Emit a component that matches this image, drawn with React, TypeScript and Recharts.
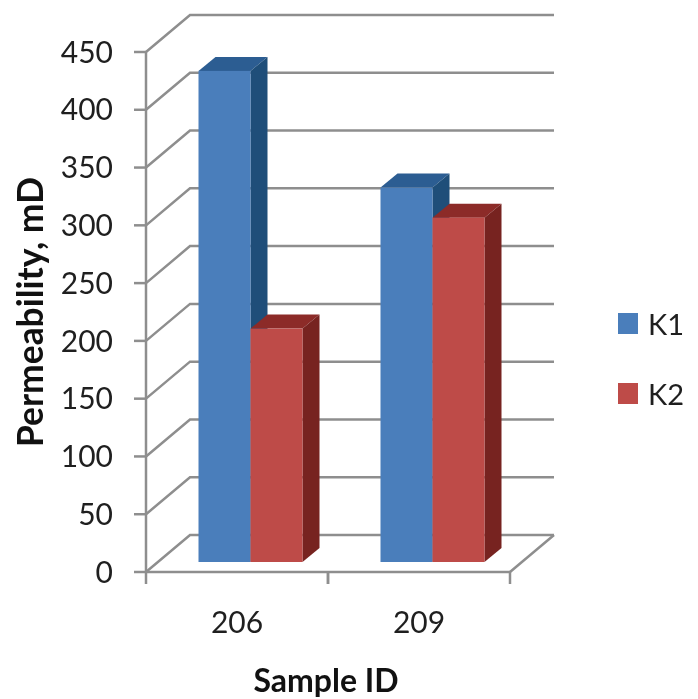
import React from "react";
import { BarChart, Bar, XAxis, YAxis, CartesianGrid, Legend } from "recharts";

const categories = ["206", "209"];
const k1Values = [425, 324];
const k2Values = [202, 298];
const yTicks = [0, 50, 100, 150, 200, 250, 300, 350, 400, 450];

const data = categories.map((name, i) => ({ name, K1: k1Values[i], K2: k2Values[i] }));

const WIDTH = 698;
const HEIGHT = 699;
const MARGIN = { top: 52, right: 188, bottom: 0, left: 0 };
const AXIS_W = 146;
const AXIS_H = 127;
const PLOT_BOTTOM = HEIGHT - AXIS_H;
const BAND = (WIDTH - MARGIN.right - AXIS_W) / categories.length;

// depth of the fake 3d box
const WALL_X = 44;
const WALL_Y = 37;
const BAR_DX = 13.5;
const BAR_DY = -10;
const BAR_DEPTH_X = 17;
const BAR_DEPTH_Y = 14;

const GRID = "#8e8e8e";
const TEXT = "#1f1f1f";
const FONT = "Lato, sans-serif";

const BLUE = { front: "#4a7ebb", top: "#2c5d92", side: "#1f4e79" };
const RED = { front: "#be4b48", top: "#8c2b28", side: "#772320" };

function WallLine(props: any) {
  const { x1, x2, y1 } = props;
  const isFloor = Math.abs(y1 - PLOT_BOTTOM) < 1;
  return (
    <g fill="none" stroke={GRID} strokeWidth={2.5}>
      <polyline points={`${x1},${y1} ${x1 + WALL_X},${y1 - WALL_Y} ${x2 + WALL_X},${y1 - WALL_Y}`} />
      {isFloor && <line x1={x2} y1={y1} x2={x2 + WALL_X} y2={y1 - WALL_Y} />}
    </g>
  );
}

function Box(props: any) {
  const { x, y, width, height, colors } = props;
  const l = x + BAR_DX;
  const r = l + width;
  const t = y + BAR_DY;
  const b = t + height;
  const dx = BAR_DEPTH_X;
  const dy = BAR_DEPTH_Y;
  return (
    <g>
      <polygon points={`${l},${t} ${l + dx},${t - dy} ${r + dx},${t - dy} ${r},${t}`} fill={colors.top} />
      <polygon points={`${r},${t} ${r + dx},${t - dy} ${r + dx},${b - dy} ${r},${b}`} fill={colors.side} />
      <rect x={l} y={t} width={width} height={height} fill={colors.front} />
    </g>
  );
}

function CategoryTick(props: any) {
  const { x, payload } = props;
  const c = payload.coordinate ?? x;
  return (
    <g>
      <line x1={c - BAND / 2} y1={PLOT_BOTTOM} x2={c - BAND / 2} y2={PLOT_BOTTOM + 12} stroke={GRID} strokeWidth={2.5} />
      <line x1={c + BAND / 2} y1={PLOT_BOTTOM} x2={c + BAND / 2} y2={PLOT_BOTTOM + 12} stroke={GRID} strokeWidth={2.5} />
      <text x={c} y={PLOT_BOTTOM + 61} textAnchor="middle" fontFamily={FONT} fontSize={30} fill={TEXT}>
        {payload.value}
      </text>
    </g>
  );
}

function LegendBox(props: any) {
  return (
    <div>
      {(props.payload || []).map((item: any) => (
        <div key={item.value} style={{ display: "flex", alignItems: "center", height: 70, fontFamily: FONT, fontSize: 29, color: TEXT }}>
          <span style={{ width: 20, height: 21, marginRight: 10, background: item.value === "K1" ? BLUE.front : RED.front }} />
          {item.value}
        </div>
      ))}
    </div>
  );
}

export default function App() {
  return (
    <div style={{ position: "absolute", left: 0, top: 0, width: WIDTH, height: HEIGHT, filter: "blur(0.7px)" }}>
      <BarChart
        width={WIDTH}
        height={HEIGHT}
        data={data}
        margin={MARGIN}
        barSize={52}
        barGap={0}
      >
        <CartesianGrid vertical={false} horizontal={(p: any) => <WallLine key={p.key ?? p.y1} {...p} />} />
        <XAxis
          dataKey="name"
          height={AXIS_H}
          tickLine={false}
          axisLine={{ stroke: GRID, strokeWidth: 2.5 }}
          tick={<CategoryTick />}
          label={{ value: "Sample ID", position: "center", dx: -2, dy: 45, fontFamily: FONT, fontSize: 32, fontWeight: 700, fill: "#111" }}
        />
        <YAxis
          width={AXIS_W}
          domain={[0, 450]}
          ticks={yTicks}
          interval={0}
          tickSize={12}
          tickMargin={21}
          tickLine={{ stroke: GRID, strokeWidth: 2.5 }}
          axisLine={{ stroke: GRID, strokeWidth: 2.5 }}
          tick={{ fontFamily: FONT, fontSize: 30, fill: TEXT }}
          label={{ value: "Permeability, mD", angle: -90, position: "center", dx: -43, fontFamily: FONT, fontSize: 35.4, fontWeight: 700, fill: "#111" }}
        />
        <Legend
          layout="horizontal"
          align="center"
          verticalAlign="middle"
          content={<LegendBox />}
          wrapperStyle={{ left: 618, top: 288, width: 80 }}
        />
        <Bar dataKey="K1" fill={BLUE.front} isAnimationActive={false} shape={(p: any) => <Box {...p} colors={BLUE} />} />
        <Bar dataKey="K2" fill={RED.front} isAnimationActive={false} shape={(p: any) => <Box {...p} colors={RED} />} />
      </BarChart>
    </div>
  );
}
